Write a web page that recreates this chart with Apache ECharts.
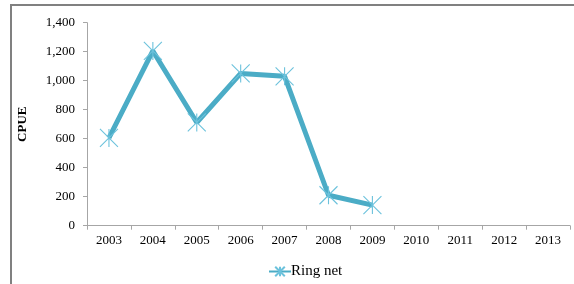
<!DOCTYPE html>
<html>
<head>
<meta charset="utf-8">
<script src="https://cdn.jsdelivr.net/npm/echarts@6/dist/echarts.min.js"></script>
<style>
  html, body { margin: 0; padding: 0; background: #fff; }
  #chart { width: 574px; height: 284px; }
</style>
</head>
<body>
<div id="chart"></div>
<script>
// data
const years = ['2003', '2004', '2005', '2006', '2007', '2008', '2009', '2010', '2011', '2012', '2013']
const ringNet = [605, 1205, 712, 1050, 1030, 210, 142, null, null, null, null]

const chart = echarts.init(document.getElementById('chart'))
const axisGray = '#a6a6a6'
const font = 'Liberation Serif'

const option = {
    animation: false,
    graphic: [{
        type: 'rect',
        shape: { x: 11, y: 5, width: 620, height: 320 },
        style: { fill: 'none', stroke: '#808080', lineWidth: 2 },
        z: 100
    }],
    grid: { left: 87, right: 4, top: 22.7, bottom: 58.3 },
    xAxis: {
        type: 'category',
        data: years,
        boundaryGap: true,
        axisLine: { lineStyle: { color: axisGray, width: 1 } },
        axisTick: { show: true, length: 4, lineStyle: { color: axisGray } },
        axisLabel: { color: '#000', fontFamily: font, fontSize: 13, margin: 8 }
    },
    yAxis: {
        type: 'value',
        min: 0,
        max: 1400,
        interval: 200,
        name: 'CPUE',
        nameLocation: 'middle',
        nameGap: 58,
        nameTextStyle: { color: '#000', fontFamily: font, fontSize: 13, fontWeight: 'bold' },
        axisLine: { show: true, lineStyle: { color: axisGray, width: 1 } },
        axisTick: { show: true, length: 4, lineStyle: { color: axisGray } },
        splitLine: { show: false },
        axisLabel: {
            color: '#000', fontFamily: font, fontSize: 13, margin: 12,
            formatter: v => v.toLocaleString('en-US')
        }
    },
    legend: {
        top: 259,
        left: 263,
        itemWidth: 22,
        itemHeight: 12,
        itemGap: 4,
        textStyle: { color: '#000', fontFamily: font, fontSize: 15, padding: [0, 0, 0, -5] },
        data: ['Ring net']
    },
    series: [{
        name: 'Ring net',
        type: 'line',
        data: ringNet,
        connectNulls: false,
        lineStyle: { color: '#4bacc6', width: 5 },
        symbol: 'path://M0,0L10,10M10,0L0,10M5,0L5,10',
        symbolSize: 18,
        itemStyle: { color: 'none', borderColor: '#6cc2dc', borderWidth: 1.1 }
    }]
}

chart.setOption(option)
</script>
</body>
</html>
